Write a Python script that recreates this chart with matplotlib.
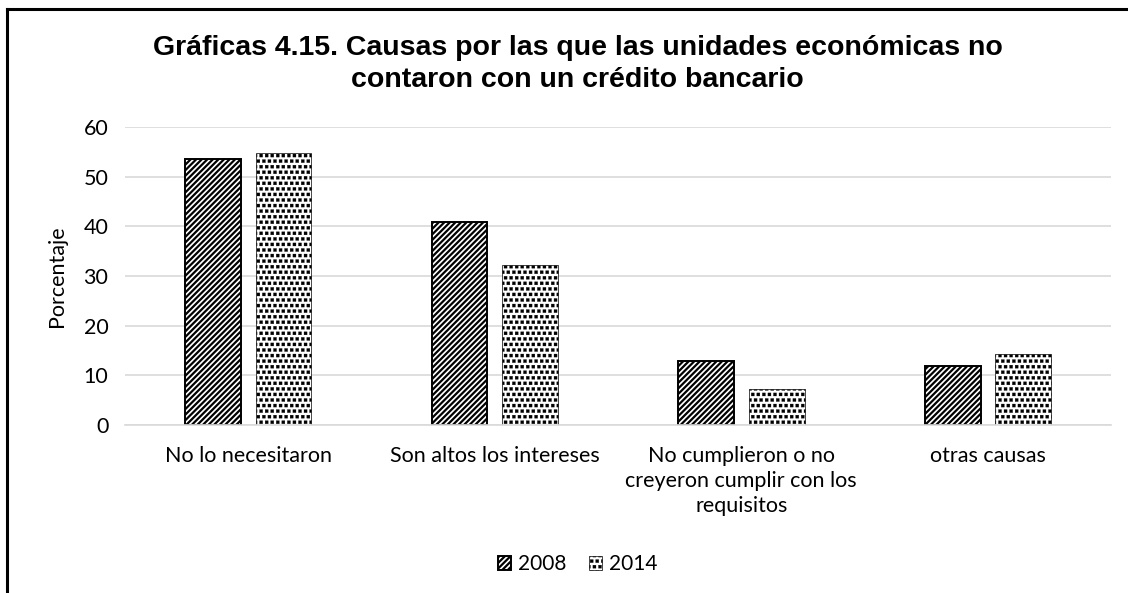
import matplotlib.pyplot as plt
from matplotlib import hatch as mhatch
from matplotlib.path import Path
from matplotlib.lines import Line2D
import numpy as np

categorias = ["No lo necesitaron", "Son altos los intereses",
              "No cumplieron o no\ncreyeron cumplir con los\nrequisitos", "otras causas"]
serie_2008 = [53.6, 40.8, 12.9, 11.9]
serie_2014 = [54.8, 32.2, 7.2, 14.2]
años = ["2008", "2014"]


# trama de cuadritos rellenos en lugar de los puntos por defecto ('.')
class CuadrosRellenos(mhatch.Shapes):
    size = 0.55
    filled = True

    def __init__(self, hatch, density):
        self.num_rows = hatch.count('.') * density
        cuadro = Path.unit_rectangle()
        self.shape_vertices = cuadro.vertices - 0.5
        self.shape_codes = cuadro.codes
        super().__init__(hatch, density)


mhatch._hatch_types = [CuadrosRellenos if t is mhatch.SmallFilledCircles else t
                       for t in mhatch._hatch_types]

plt.rcParams['font.family'] = ['Lato', 'DejaVu Sans']
plt.rcParams['hatch.linewidth'] = 1.6

fig = plt.figure(figsize=(11.28, 5.93), dpi=100)
ax = fig.add_axes([0.1108, 0.2833, 0.8742, 0.5025])

x = np.arange(len(categorias))
ancho = 0.227
b1 = ax.bar(x - 0.143, serie_2008, ancho, color='white', edgecolor='black',
            hatch='//////', linewidth=1.4, label=años[0])
b2 = ax.bar(x + 0.143, serie_2014, ancho, color='white', edgecolor='black',
            hatch='...', linewidth=0.5, label=años[1])
for p in b2:
    if hasattr(p, 'set_hatch_linewidth'):
        p.set_hatch_linewidth(0.2)

ax.set_xlim(-0.5, 3.5)
ax.set_ylim(0, 60)
ax.set_yticks(range(0, 61, 10))
ax.yaxis.grid(True, color='#d9d9d9', linewidth=1.2)
ax.set_axisbelow(True)
for s in ['top', 'right', 'left']:
    ax.spines[s].set_visible(False)
ax.spines['bottom'].set_color('#d9d9d9')
ax.spines['bottom'].set_linewidth(1.2)
ax.tick_params(axis='both', length=0, labelsize=15.5, colors='#000000', pad=12)
ax.set_xticks(x)
ax.set_xticklabels(categorias, linespacing=1.33, va='top')
ax.tick_params(axis='x', pad=15)
ax.set_ylabel("Porcentaje", fontsize=15.5, labelpad=12)

fig.text(0.512, 0.892, "Gráficas 4.15. Causas por las que las unidades económicas no\n"
         "contaron con un crédito bancario", ha='center', va='center',
         fontsize=20.5, fontweight='bold', family='Liberation Sans', linespacing=1.28)

leg = fig.legend(handles=[b1, b2], labels=años, loc='center', bbox_to_anchor=(0.512, 0.049),
                 ncol=2, frameon=False, fontsize=15, handlelength=0.65, handleheight=0.65,
                 handletextpad=0.3, columnspacing=1.1)
for h in leg.legend_handles:
    if hasattr(h, 'set_hatch_linewidth') and h.get_hatch() == '...':
        h.set_hatch_linewidth(0.2)

# marco del gráfico
fig.add_artist(Line2D([7 / 1128, 7 / 1128], [0, 1 - 9 / 593], color='black', linewidth=2.2,
                      transform=fig.transFigure))
fig.add_artist(Line2D([7 / 1128, 1], [1 - 9 / 593, 1 - 9 / 593], color='black', linewidth=2.2,
                      transform=fig.transFigure))

fig.savefig("out.png", dpi=100)
